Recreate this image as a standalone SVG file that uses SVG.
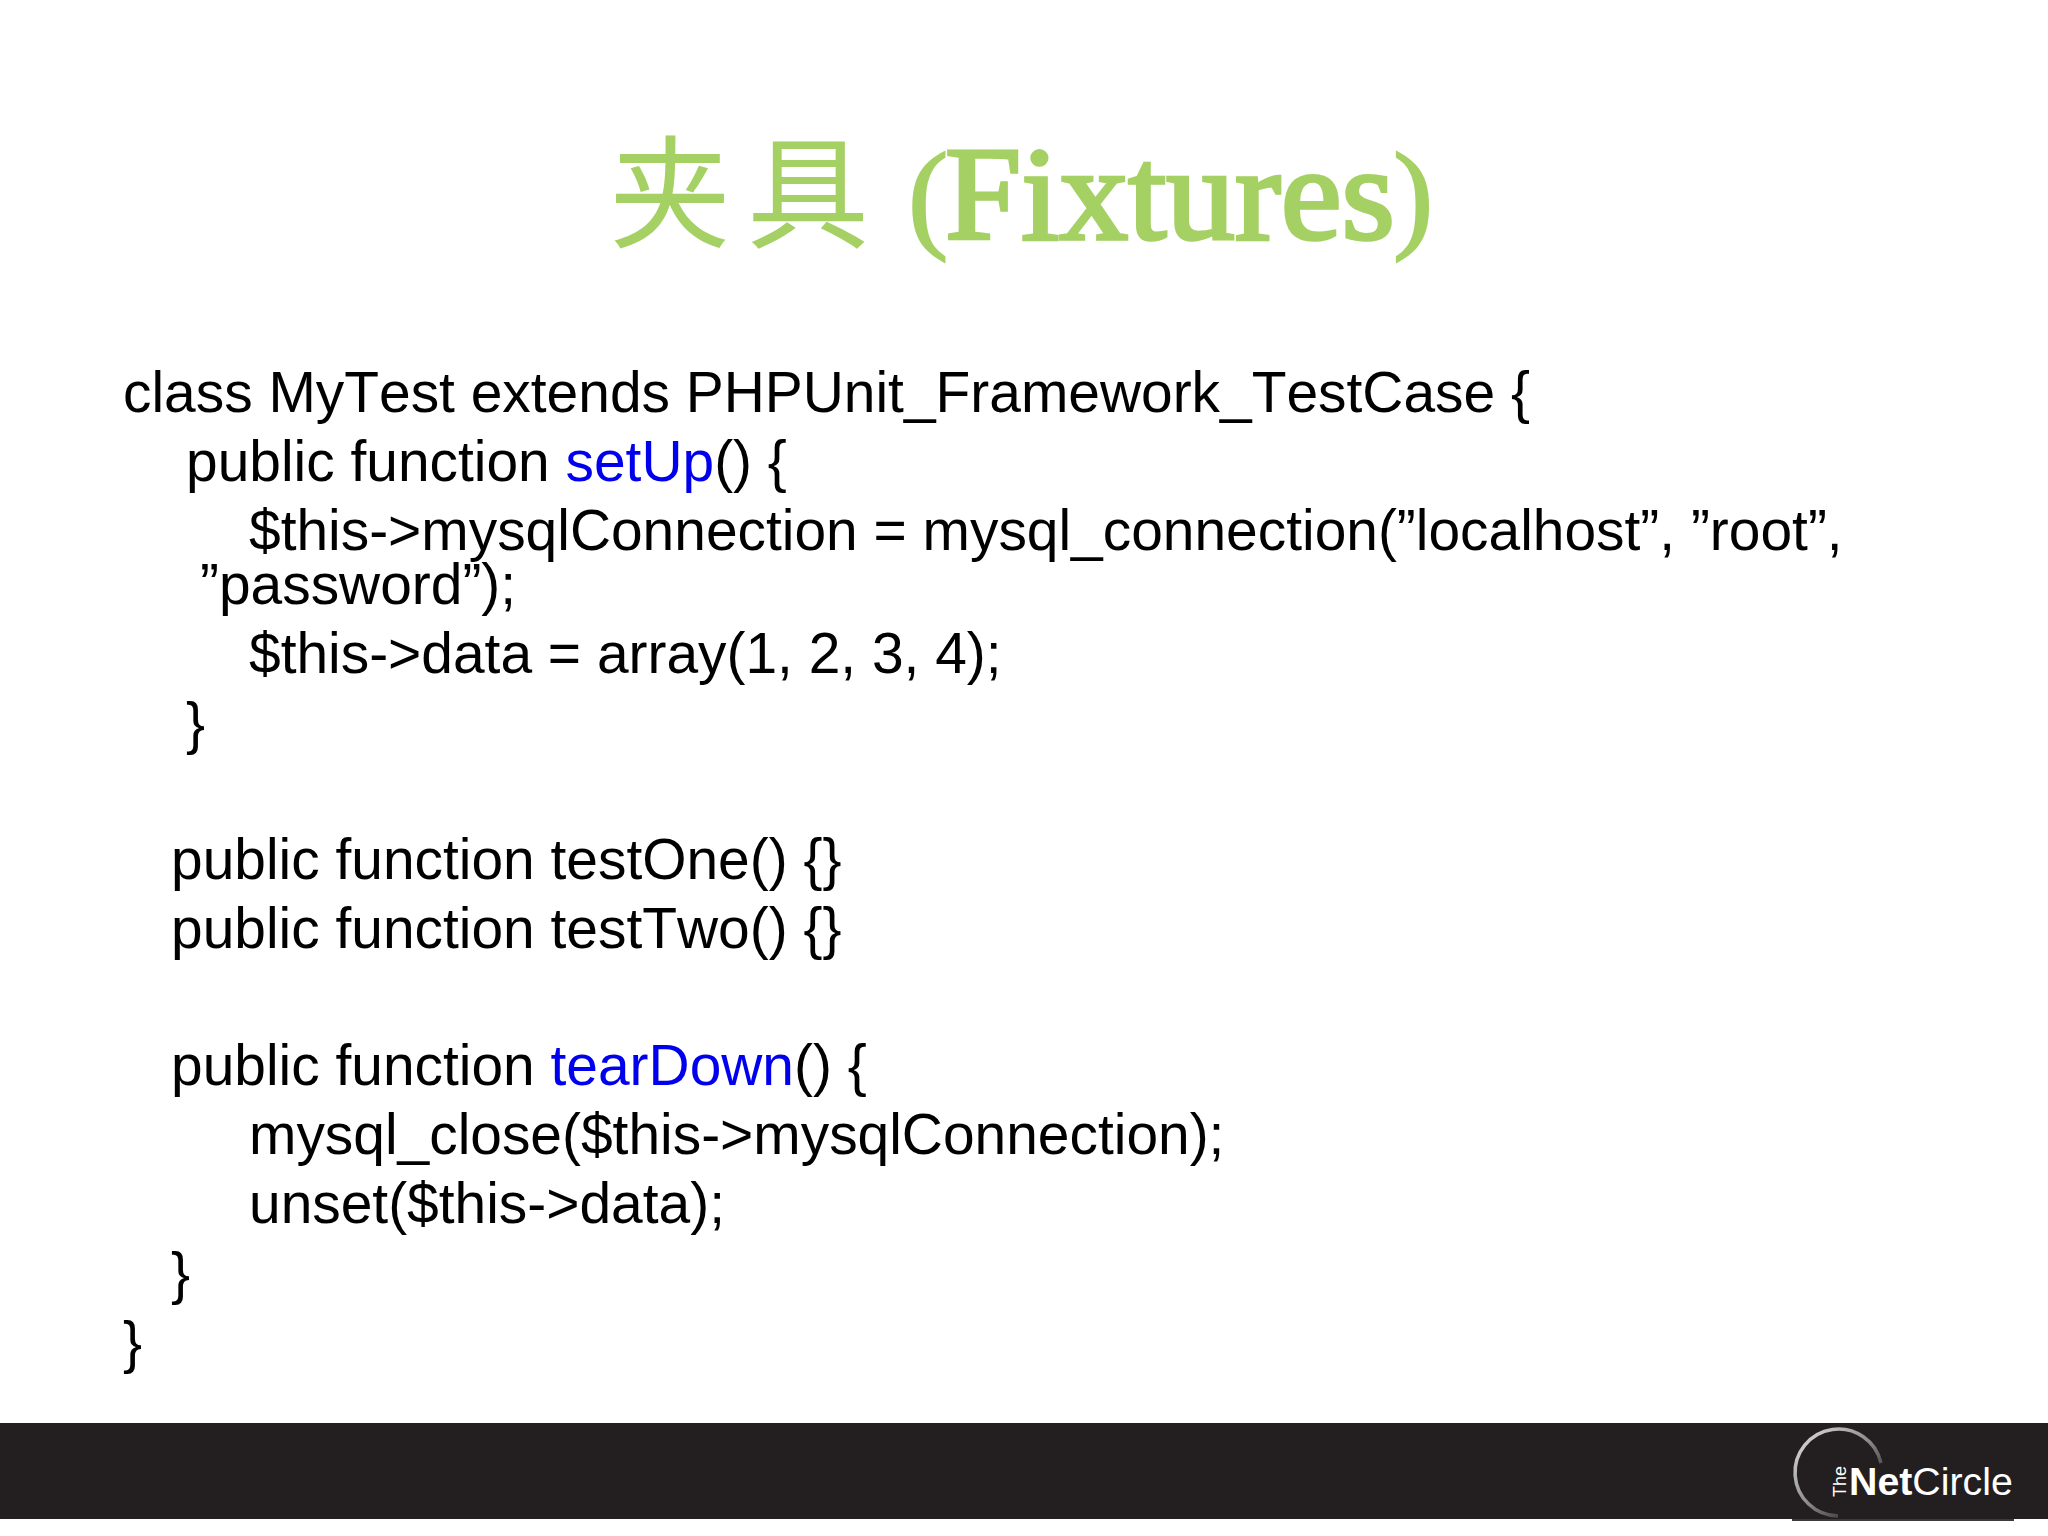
<svg xmlns="http://www.w3.org/2000/svg" width="2048" height="1536" viewBox="0 0 2048 1536">
<defs>
<linearGradient id="ring" gradientUnits="userSpaceOnUse" x1="1805" y1="1445" x2="1872" y2="1510">
<stop offset="0" stop-color="#c8c8c8"/>
<stop offset="0.45" stop-color="#8c8c8c"/>
<stop offset="1" stop-color="#231f20"/>
</linearGradient>
</defs>
<style>
.c{font-family:"Liberation Sans",Arial,sans-serif;font-size:56.9px;font-kerning:none;fill:#000}
.b{fill:#0000ee}
.t{fill:#a5d063}
.s{font-family:"Liberation Serif",serif;font-weight:400;stroke:#a5d063}
.k{font-family:"Noto Sans CJK SC",sans-serif;font-size:122px;font-weight:400}
.l{font-family:"Liberation Sans",Arial,sans-serif;fill:#fff}
</style>
<rect width="2048" height="1536" fill="#fff"/>
<g id="title">
<text class="t k" x="609" y="238">夹</text>
<text class="t k" x="747" y="238">具</text>
<text class="t s" x="908" y="236" font-size="121" stroke-width="2">(</text>
<text class="t s" x="945" y="239" font-size="133" stroke-width="3.500" textLength="450" lengthAdjust="spacingAndGlyphs">Fixtures</text>
<text class="t s" x="1393" y="236" font-size="121" stroke-width="2">)</text>
</g>
<g id="code">
<text class="c" x="123" y="412">class MyTest extends PHPUnit_Framework_TestCase {</text>
<text class="c" x="186" y="481">public function <tspan class="b">setUp</tspan>() {</text>
<text class="c" x="249" y="550">$this-&gt;mysqlConnection = mysql_connection(”localhost”, ”root”,</text>
<text class="c" x="200" y="604">”password”);</text>
<text class="c" x="249" y="673">$this-&gt;data = array(1, 2, 3, 4);</text>
<text class="c" x="186" y="743">}</text>
<text class="c" x="171" y="879">public function testOne() {}</text>
<text class="c" x="171" y="948">public function testTwo() {}</text>
<text class="c" x="171" y="1085">public function <tspan class="b">tearDown</tspan>() {</text>
<text class="c" x="249" y="1154">mysql_close($this-&gt;mysqlConnection);</text>
<text class="c" x="249" y="1223">unset($this-&gt;data);</text>
<text class="c" x="171" y="1293">}</text>
<text class="c" x="123" y="1362">}</text>
</g>
<g id="footer">
<rect y="1423" width="2048" height="96" fill="#231f20"/>
<rect x="1792" y="1519" width="222" height="2" fill="#3a3a3a"/>
</g>
<g id="logo">
<path d="M1881 1463A43.500 43.500 0 1 0 1838 1516" fill="none" stroke="url(#ring)" stroke-width="3.500"/>
<text class="l" transform="translate(1846 1497) rotate(-90)" font-size="18">The</text>
<text class="l" x="1849" y="1495" font-size="39.300" font-weight="700">Net<tspan font-weight="400">Circle</tspan></text>
</g>
</svg>
